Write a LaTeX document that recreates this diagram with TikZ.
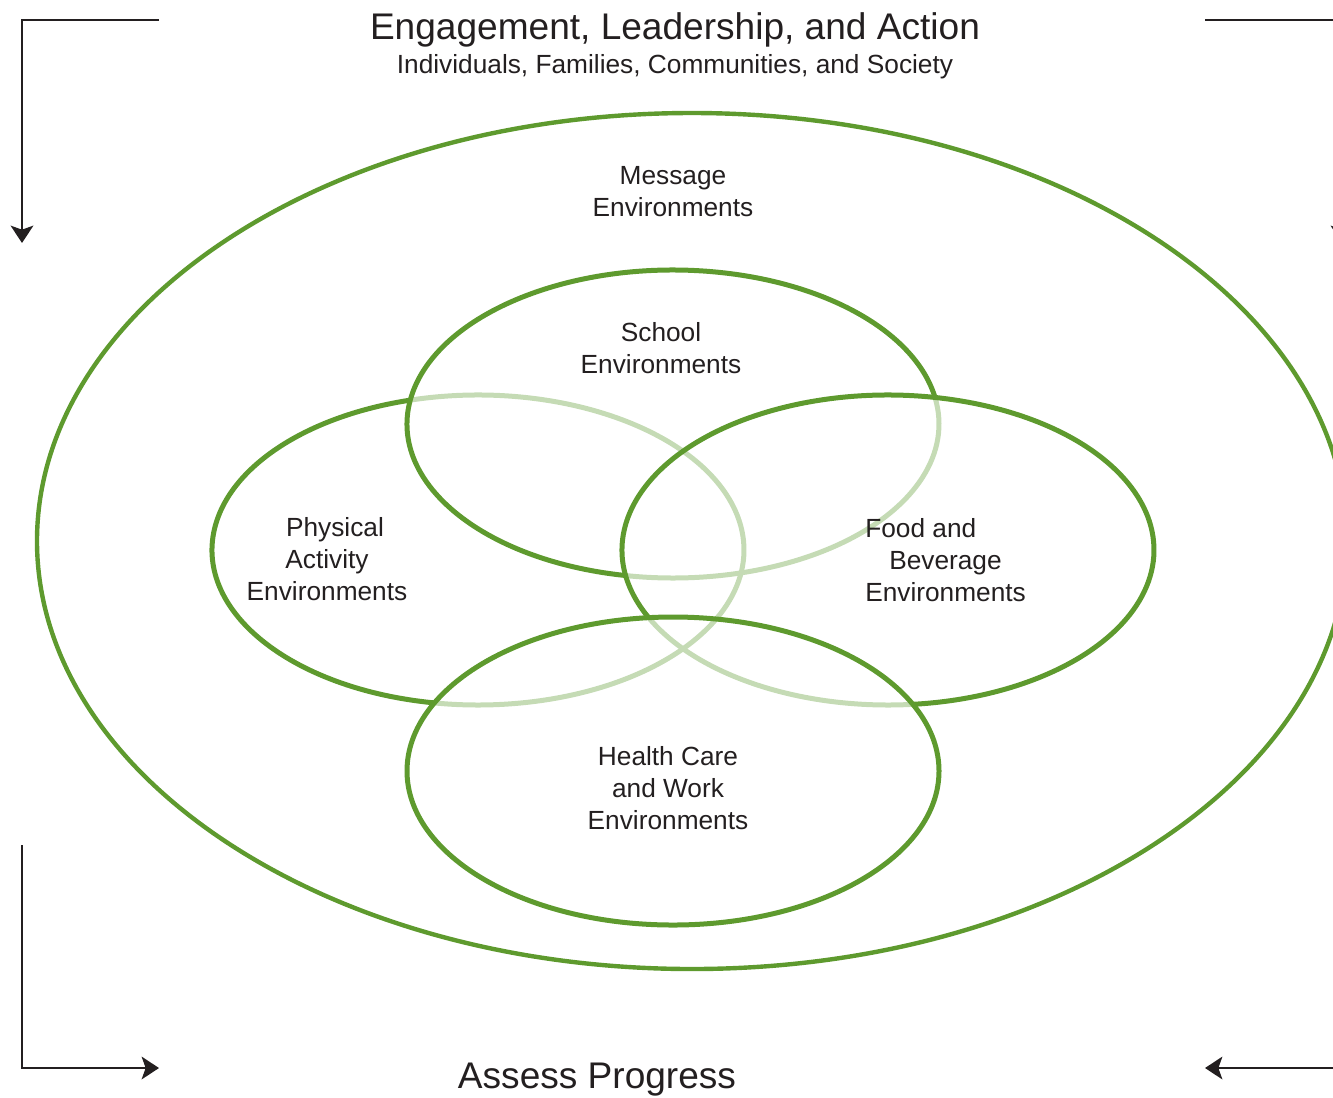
\documentclass[tikz,border=0pt]{standalone}
\usepackage{fontspec}
\setmainfont{Liberation Sans}
\usetikzlibrary{arrows.meta}
\definecolor{ringgreen}{RGB}{94,154,46}
\definecolor{ringpale}{RGB}{197,219,181}
\definecolor{arrowink}{RGB}{35,31,32}

\begin{document}
\begin{tikzpicture}[x=0.75pt,y=0.75pt,yscale=-1,xscale=1,
  darkring/.style={draw=ringgreen,line width=3.75pt},
  palering/.style={draw=ringpale,line width=3.75pt},
  loopline/.style={draw=arrowink,line width=1.6pt,-{Stealth[length=13pt,width=17pt,inset=3pt]}},
  bigtext/.style={font=\fontsize{27.8}{33}\selectfont,text=arrowink,inner sep=0.75pt},
  ringtext/.style={font=\fontsize{19.7}{24}\selectfont,text=arrowink,inner sep=0.75pt,align=center}]
\clip (0,0) rectangle (1333,1097);

%Shape: Ellipse [outer]
\draw [darkring,line width=3.3pt] (692,541) ellipse [x radius=655, y radius=428];

%Shape: Arc [pale parts]
\draw [palering] (673,424) ++(-9.7:266 and 154) arc [start angle=-9.7, end angle=100.2, x radius=266, y radius=154];
\draw [palering] (888,550) ++(84.7:266 and 155) arc [start angle=84.7, end angle=154.3, x radius=266, y radius=155];
\draw [palering] (478,550) ++(255.2:266 and 155) arc [start angle=255.2, end angle=459.4, x radius=266, y radius=155];

%Shape: Arc [dark parts]
\draw [darkring] (673,424) ++(100.2:266 and 154) arc [start angle=100.2, end angle=350.3, x radius=266, y radius=154];
\draw [darkring] (888,550) ++(154.3:266 and 155) arc [start angle=154.3, end angle=444.7, x radius=266, y radius=155];
\draw [darkring] (478,550) ++(99.4:266 and 155) arc [start angle=99.4, end angle=255.2, x radius=266, y radius=155];
%Shape: Ellipse [health]
\draw [darkring] (673,771) ellipse [x radius=266, y radius=154];

%Loop arrows
\coordinate (tlstart) at (159,20);
\coordinate (tlcorner) at (22,20);
\coordinate (tlend) at (22,243);
\coordinate (trstart) at (1205,20);
\coordinate (trcorner) at (1342,20);
\coordinate (trend) at (1342,243);
\coordinate (blstart) at (22,845);
\coordinate (blcorner) at (22,1068);
\coordinate (blend) at (159,1068);
\coordinate (brstart) at (1342,845);
\coordinate (brcorner) at (1342,1068);
\coordinate (brend) at (1205,1068);
\draw [loopline] (tlstart) -- (tlcorner) -- (tlend);
\draw [loopline] (trstart) -- (trcorner) -- (trend);
\draw [loopline] (blstart) -- (blcorner) -- (blend);
\draw [loopline] (brstart) -- (brcorner) -- (brend);

% Text Node
\node [bigtext] (lead) at (675,30) {Engagement, Leadership, and Action};
% Text Node
\node [ringtext] (leadsub) at (675,67) {Individuals, Families, Communities, and Society};
% Text Node
\node [ringtext] (message) at (673,192) {Message\\Environments};
% Text Node
\node [ringtext] (school) at (661,348) {School\\Environments};
% Text Node
\node [ringtext] (physical) at (327,559) {\hspace*{12pt}Physical\\Activity\\Environments};
% Text Node
\node [ringtext,align=left,anchor=west] (food) at (864,560) {Food and\\\hspace*{18pt}Beverage\\Environments};
% Text Node
\node [ringtext] (health) at (668,788) {Health Care\\and Work\\Environments};
% Text Node
\node [bigtext] (assess) at (597,1080) {Assess Progress};
\end{tikzpicture}
\end{document}
